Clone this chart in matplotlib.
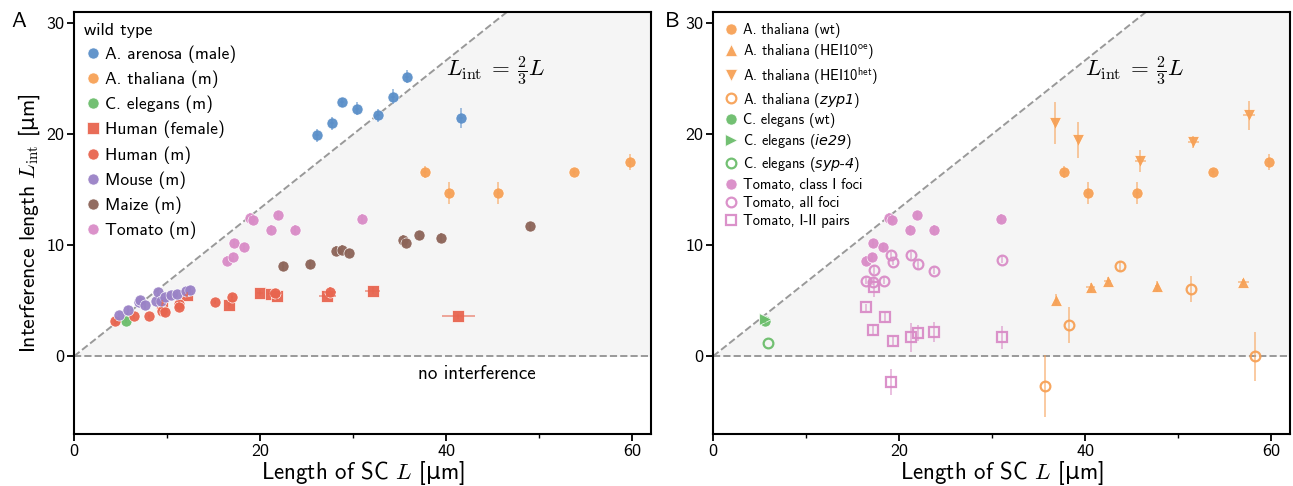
import numpy as np
import matplotlib.pyplot as plt

plt.rcParams['font.family'] = 'cmss10'
plt.rcParams['mathtext.fontset'] = 'custom'
plt.rcParams['mathtext.rm'] = 'cmr10'
plt.rcParams['mathtext.it'] = 'cmmi10'
plt.rcParams['mathtext.sf'] = 'cmss10'
plt.rcParams['mathtext.bf'] = 'DejaVu Sans:italic'
plt.rcParams['mathtext.tt'] = 'DejaVu Sans'
plt.rcParams['axes.unicode_minus'] = False

# ---- panel A data (wild type) ----
aren_x = [26.1, 27.7, 28.8, 30.4, 32.7, 34.3, 35.8, 41.6]
aren_y = [19.9, 21.0, 22.9, 22.3, 21.7, 23.4, 25.2, 21.5]
aren_ye = [0.6, 0.6, 0.4, 0.6, 0.6, 0.7, 0.6, 0.9]

thal_x = [37.7, 40.3, 45.6, 53.7, 59.7]
thal_y = [16.6, 14.7, 14.7, 16.6, 17.5]
thal_ye = [0.5, 1.0, 1.0, 0.3, 0.7]

eleg_x = [5.6]
eleg_y = [3.2]
eleg_ye = [0.2]

humf_x = [9.5, 12.1, 16.7, 20.0, 21.2, 21.8, 27.2, 32.1, 41.3]
humf_y = [4.8, 5.5, 4.6, 5.7, 5.6, 5.4, 5.45, 5.9, 3.6]
humf_xe = [0.2, 0.2, 0.2, 0.3, 0.3, 0.3, 0.9, 0.8, 1.8]
humf_ye = [0.3, 0.3, 0.3, 0.3, 0.3, 0.3, 0.3, 0.3, 0.2]

humm_x = [4.4, 6.4, 8.1, 9.5, 9.8, 11.3, 11.3, 15.2, 17.0, 21.6, 27.5]
humm_y = [3.2, 3.6, 3.6, 4.1, 4.0, 4.75, 4.4, 4.9, 5.3, 5.7, 5.8]
humm_xe = [0.1, 0.1, 0.1, 0.3, 0.3, 0.3, 0.3, 0.1, 0.1, 0.8, 0.6]
humm_ye = [0.2, 0.2, 0.2, 0.3, 0.3, 0.3, 0.3, 0.2, 0.3, 0.4, 0.4]

mous_x = [4.8, 5.8, 7.0, 7.1, 7.6, 8.8, 9.0, 9.3, 9.8, 10.4, 11.1, 12.0, 12.5]
mous_y = [3.7, 4.2, 4.9, 5.1, 4.6, 5.0, 5.75, 5.0, 5.3, 5.5, 5.6, 5.9, 6.0]
mous_ye = [0.3] * 13

maiz_x = [22.5, 25.4, 28.1, 28.8, 29.5, 35.4, 35.7, 37.1, 39.4, 49.0]
maiz_y = [8.1, 8.3, 9.5, 9.6, 9.3, 10.5, 10.2, 10.9, 10.7, 11.7]
maiz_ye = [0.4] * 10

tom_x = [16.4, 17.1, 17.2, 18.3, 18.9, 19.2, 21.2, 21.9, 23.7, 31.0]
tom_y = [8.6, 8.9, 10.2, 9.8, 12.5, 12.3, 11.4, 12.7, 11.4, 12.4]
tom_ye = [0.4] * 10

# ---- panel B data (mutants) ----
hoe_x = [36.9, 40.6, 42.4, 47.7, 57.0]
hoe_y = [5.1, 6.2, 6.8, 6.3, 6.7]
hoe_xe = [0.2, 0.5, 0.4, 0.2, 0.6]
hoe_ye = [0.5, 0.4, 0.3, 0.5, 0.3]

het_x = [36.7, 39.2, 45.9, 51.6, 57.6]
het_y = [21.0, 19.5, 17.6, 19.3, 21.7]
het_xe = [0.1, 0.1, 0.6, 0.6, 0.6]
het_ye = [1.9, 1.6, 1.0, 0.5, 1.3]

zyp_x = [35.7, 38.2, 43.7, 51.4, 58.2]
zyp_y = [-2.7, 2.8, 8.1, 6.05, 0.0]
zyp_ye = [2.8, 1.6, 0.4, 1.2, 2.2]

ie29_x = [5.6]
ie29_y = [3.4]
syp4_x = [5.9]
syp4_y = [1.2]

tomall_x = [16.4, 17.2, 17.3, 18.4, 19.1, 19.3, 21.3, 22.0, 23.8, 31.1]
tomall_y = [6.8, 6.7, 7.8, 6.8, 9.1, 8.5, 9.1, 8.3, 7.7, 8.7]
tomall_ye = [0.3, 0.3, 0.4, 0.3, 0.3, 0.3, 0.3, 0.4, 0.3, 0.3]

tompr_x = [16.45, 17.3, 17.2, 18.5, 19.3, 19.1, 21.3, 22.0, 23.8, 31.1]
tompr_y = [4.4, 6.2, 2.4, 3.5, 1.4, -2.3, 1.7, 2.1, 2.2, 1.7]
tompr_ye = [0.3, 0.9, 0.5, 0.5, 0.4, 1.2, 1.3, 0.7, 0.9, 1.0]

c_blue = '#5b8fc9'
c_orange = '#f7a156'
c_green = '#6bbd6b'
c_red = '#e8654f'
c_purple = '#9a82c6'
c_brown = '#8c6458'
c_pink = '#d98cc7'

xmax = 62
ymin, ymax = -7, 31
um = r'[$\mathtt{µ}$m]'


def series(ax, x, y, c, m='o', label=None, xe=None, ye=None, filled=True, ms=8):
    ax.errorbar(x, y, yerr=ye, xerr=xe, fmt='none', ecolor=c, alpha=0.6,
                elinewidth=1.3, zorder=4)
    if filled:
        ax.plot(x, y, ls='none', marker=m, ms=ms, mfc=c, mec='white', mew=0.5,
                alpha=0.95, zorder=3, label=label)
    else:
        ax.plot(x, y, ls='none', marker=m, ms=ms - 1, mfc='none', mec=c, mew=1.6,
                alpha=0.95, zorder=3, label=label)


def base(ax):
    xs = np.array([0, xmax])
    ax.fill_between(xs, 0, 2 / 3 * xs, color='#f5f5f5', zorder=0, lw=0)
    ax.plot(xs, 2 / 3 * xs, ls='--', color='#999999', lw=1.4, zorder=1)
    ax.axhline(0, ls='--', color='#999999', lw=1.4, zorder=1)
    ax.set_xlim(0, xmax)
    ax.set_ylim(ymin, ymax)
    ax.set_xticks([0, 20, 40, 60])
    ax.set_xticks([10, 30, 50], minor=True)
    ax.set_yticks([0, 10, 20, 30])
    ax.tick_params(which='major', length=5, width=1.3, labelsize=13, pad=2)
    ax.tick_params(which='minor', length=3, width=1.0)
    for s in ax.spines.values():
        s.set_linewidth(1.5)
    ax.set_xlabel(r'Length of SC $L$ ' + um, fontsize=16.5, labelpad=0)
    ax.text(40.0, 25.7, r'$L_{\rm int}\:=\:\frac{2}{3}L$', fontsize=16.5, va='center')


fig = plt.figure(figsize=(12.93, 4.86), dpi=100)
ax1 = fig.add_axes([0.0572, 0.107, 0.4463, 0.868])
ax2 = fig.add_axes([0.5514, 0.107, 0.4463, 0.868])

base(ax1)
series(ax1, aren_x, aren_y, c_blue, label='A. arenosa (male)', xe=0.2, ye=aren_ye)
series(ax1, thal_x, thal_y, c_orange, label='A. thaliana (m)', xe=0.2, ye=thal_ye)
series(ax1, eleg_x, eleg_y, c_green, label='C. elegans (m)', ye=eleg_ye)
series(ax1, humf_x, humf_y, c_red, m='s', label='Human (female)', xe=humf_xe, ye=humf_ye)
series(ax1, humm_x, humm_y, c_red, label='Human (m)', xe=humm_xe, ye=humm_ye)
series(ax1, mous_x, mous_y, c_purple, label='Mouse (m)', ye=mous_ye)
series(ax1, maiz_x, maiz_y, c_brown, label='Maize (m)', ye=maiz_ye)
series(ax1, tom_x, tom_y, c_pink, label='Tomato (m)', ye=tom_ye)
ax1.text(43.3, -1.6, 'no interference', fontsize=13.7, ha='center', va='center')
ax1.set_ylabel(r'Interference length $L_{\rm int}$ ' + um, fontsize=15.5, labelpad=3)
leg1 = ax1.legend(loc='upper left', title='wild type', frameon=False, fontsize=12.6,
                  title_fontsize=13, alignment='left', handletextpad=0.2,
                  labelspacing=0.44, borderaxespad=0.2, handlelength=1.0)

base(ax2)
series(ax2, thal_x, thal_y, c_orange, label='A. thaliana (wt)', xe=0.2, ye=thal_ye)
series(ax2, hoe_x, hoe_y, c_orange, m='^', label=r'A. thaliana (HEI10$^{\mathsf{oe}}$)',
       xe=hoe_xe, ye=hoe_ye)
series(ax2, het_x, het_y, c_orange, m='v', label=r'A. thaliana (HEI10$^{\mathsf{het}}$)',
       xe=het_xe, ye=het_ye)
series(ax2, zyp_x, zyp_y, c_orange, label=r'A. thaliana ($\mathbf{zyp1}$)', ye=zyp_ye,
       filled=False)
series(ax2, eleg_x, eleg_y, c_green, label='C. elegans (wt)', ye=eleg_ye)
series(ax2, ie29_x, ie29_y, c_green, m='>', label=r'C. elegans ($\mathbf{ie29}$)')
series(ax2, syp4_x, syp4_y, c_green, label=r'C. elegans ($\mathbf{syp}$-$\mathbf{4}$)',
       filled=False)
series(ax2, tom_x, tom_y, c_pink, label='Tomato, class I foci', ye=tom_ye)
series(ax2, tomall_x, tomall_y, c_pink, label='Tomato, all foci', ye=tomall_ye,
       filled=False)
series(ax2, tompr_x, tompr_y, c_pink, m='s', label='Tomato, I-II pairs', ye=tompr_ye,
       filled=False)
leg2 = ax2.legend(loc='upper left', frameon=False, fontsize=10.4, handletextpad=0.3,
                  labelspacing=0.27, borderaxespad=0.35, handlelength=1.0)

fig.text(0.009, 0.955, 'A', fontsize=16, va='center')
fig.text(0.514, 0.955, 'B', fontsize=16, va='center')

plt.savefig('out.png', dpi=100)
